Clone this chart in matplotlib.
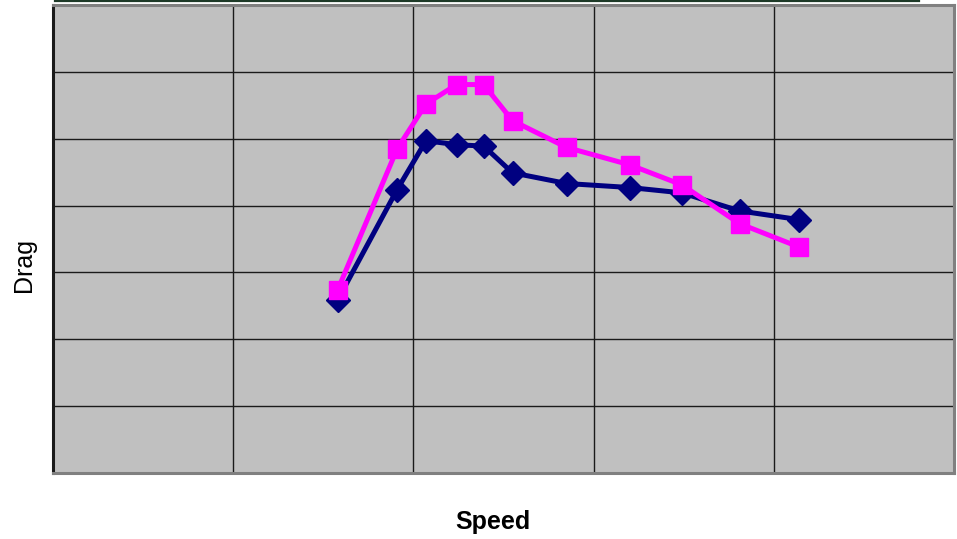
#!/usr/bin/env python3
"""Drag against speed for two test runs, drawn in the old spreadsheet style."""

import matplotlib

matplotlib.use("Agg")
import matplotlib.pyplot as plt
from matplotlib.lines import Line2D

# Speed readings shared by both runs
speed = [15.8, 19.1, 20.7, 22.4, 23.9, 25.5, 28.5, 32.0, 34.9, 38.1, 41.4]

# Measured drag for each run
drag_run_a = [25.9, 42.4, 49.7, 49.1, 48.9, 44.9, 43.3, 42.7, 41.9, 39.2, 37.9]
drag_run_b = [27.4, 48.5, 55.2, 58.1, 58.1, 52.7, 48.7, 46.1, 43.1, 37.3, 33.8]

x_ticks = [0, 10, 20, 30, 40, 50]
y_ticks = [0, 10, 20, 30, 40, 50, 60, 70]

W, H, DPI = 957, 539, 100


def main() -> None:
    plt.rcParams["font.family"] = ["Liberation Sans", "DejaVu Sans"]
    fig = plt.figure(figsize=(W / DPI, H / DPI), dpi=DPI)

    left, right, top, bottom = 53, 954, 5, 473
    ax = fig.add_axes([left / W, 1 - bottom / H, (right - left) / W, (bottom - top) / H])
    ax.set_facecolor("#c0c0c0")

    ax.plot(speed, drag_run_a, color="#000080", lw=3.6, marker="D", ms=12,
            mec="#000080", mfc="#000080", zorder=3, solid_joinstyle="miter")
    ax.plot(speed, drag_run_b, color="#ff00ff", lw=3.6, marker="s", ms=13.5,
            mec="#ff00ff", mfc="#ff00ff", zorder=4, solid_joinstyle="miter")

    ax.set_xlim(x_ticks[0], x_ticks[-1])
    ax.set_ylim(y_ticks[0], y_ticks[-1])
    ax.set_xticks(x_ticks)
    ax.set_yticks(y_ticks)
    ax.tick_params(length=0, labelbottom=False, labelleft=False)
    ax.grid(True, color="#1a1a1a", lw=1.0)
    ax.set_axisbelow(True)

    for side in ("top", "right", "bottom"):
        ax.spines[side].set_color("#808080")
        ax.spines[side].set_linewidth(2.2)
    ax.spines["left"].set_color("#1a1a1a")
    ax.spines["left"].set_linewidth(2.2)

    fig.text(493 / W, 1 - 522 / H, "Speed", ha="center", va="center",
             fontsize=18, fontweight="bold")
    fig.text(24 / W, 1 - 265 / H, "Drag", ha="center", va="center",
             fontsize=18, rotation=90)

    # thin rule left over from the heading band above the chart
    fig.add_artist(Line2D([55 / W, 919 / W], [1 - 0.8 / H, 1 - 0.8 / H],
                          color="#1e3a28", lw=1.6))

    fig.savefig("out.png", dpi=DPI)


if __name__ == "__main__":
    main()
